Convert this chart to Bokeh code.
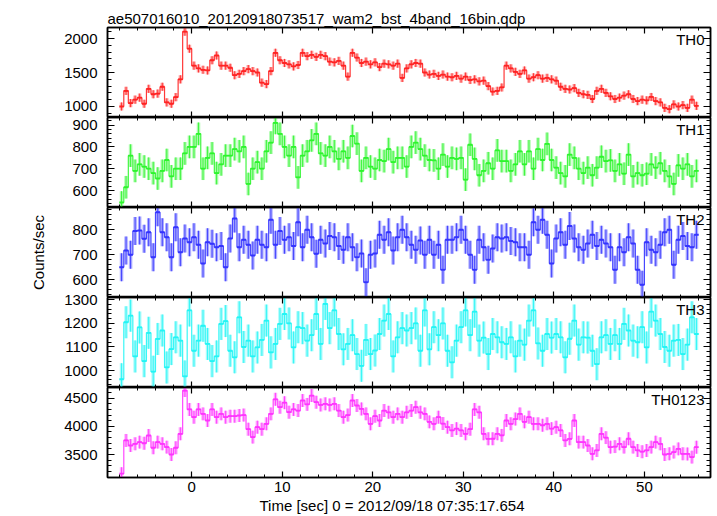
from bokeh.plotting import figure
from bokeh.layouts import column
from bokeh.models import Range1d, LinearAxis, SingleIntervalTicker, Label, ColumnDataSource, Title
from bokeh.embed import file_html
from bokeh.resources import INLINE

TITLE = "ae507016010_20120918073517_wam2_bst_4band_16bin.qdp"
X_LABEL = "Time [sec] 0 = 2012/09/18 07:35:17.654"
Y_LABEL = "Counts/sec"

# time bins: 0.5 s bins starting at -8 s (centres)
T_START = -7.75
BIN = 0.5

CHANNELS = ["TH0", "TH1", "TH2", "TH3", "TH0123"]

TH0 = [1000, 1230, 1050, 1100, 1130, 1040, 1260, 1180, 1190, 1290,
       1060, 1040, 1137, 1400, 2100, 1850, 1600, 1560, 1540, 1530,
       1680, 1750, 1600, 1600, 1570, 1460, 1480, 1520, 1550, 1520,
       1500, 1350, 1330, 1520, 1790, 1680, 1640, 1620, 1590, 1610,
       1790, 1740, 1760, 1730, 1760, 1740, 1660, 1650, 1670, 1600,
       1440, 1790, 1720, 1640, 1660, 1620, 1650, 1580, 1630, 1620,
       1600, 1630, 1420, 1560, 1620, 1640, 1630, 1500, 1470, 1480,
       1450, 1470, 1440, 1430, 1450, 1410, 1440, 1390, 1400, 1370,
       1380, 1300, 1220, 1230, 1280, 1600, 1560, 1510, 1480, 1530,
       1410, 1430, 1460, 1410, 1420, 1400, 1380, 1290, 1260, 1250,
       1270, 1200, 1180, 1170, 1110, 1230, 1260, 1200, 1150, 1110,
       1130, 1160, 1180, 1110, 1080, 1100, 1090, 1140, 1080, 1060,
       980, 960, 1030, 1000, 1020, 980, 1100, 1010]

TH1 = [545, 615, 760, 690, 720, 710, 700, 680, 655, 690,
       740, 665, 700, 700, 770, 800, 800, 860, 700, 750,
       770, 680, 720, 760, 760, 790, 780, 800, 630, 700,
       730, 700, 780, 820, 910, 860, 800, 760, 800, 660,
       760, 780, 830, 860, 770, 760, 800, 780, 745, 780,
       750, 850, 815, 690, 750, 710, 700, 740, 735, 790,
       730, 750, 750, 710, 800, 820, 790, 760, 740, 738,
       700, 765, 710, 750, 745, 750, 650, 810, 745, 670,
       690, 725, 700, 784, 735, 735, 690, 720, 780, 720,
       780, 700, 790, 740, 814, 740, 705, 680, 665, 765,
       750, 700, 680, 705, 670, 705, 755, 735, 738, 690,
       720, 677, 765, 665, 680, 670, 677, 720, 705, 725,
       690, 665, 630, 715, 700, 720, 665, 690]

TH2 = [650, 717, 700, 795, 797, 764, 790, 690, 870, 790,
       770, 690, 810, 710, 765, 750, 770, 740, 665, 750,
       744, 730, 735, 650, 765, 845, 730, 760, 740, 697,
       760, 740, 730, 840, 740, 795, 760, 770, 735, 830,
       730, 800, 770, 704, 760, 745, 775, 770, 735, 720,
       770, 730, 690, 705, 590, 700, 705, 780, 760, 790,
       717, 770, 800, 770, 740, 720, 757, 700, 760, 700,
       740, 640, 760, 760, 770, 800, 760, 700, 640, 760,
       730, 680, 725, 770, 765, 770, 755, 750, 730, 730,
       700, 830, 800, 840, 780, 665, 765, 790, 740, 815,
       765, 730, 720, 745, 780, 735, 760, 745, 730, 640,
       730, 710, 770, 745, 640, 580, 750, 720, 710, 740,
       790, 800, 660, 760, 775, 735, 730, 780]

TH3 = [963, 1205, 1233, 1060, 1183, 1040, 1160, 995, 1134, 1170,
       1013, 1091, 1141, 1127, 975, 1255, 1084, 1127, 1190, 1113,
       1040, 1060, 1198, 1210, 1084, 1056, 1226, 1100, 1127, 1060,
       1098, 1130, 1212, 1077, 1113, 1198, 1240, 1200, 1098, 1184,
       1180, 1127, 1150, 1240, 1113, 1283, 1180, 1255, 1155, 1090,
       1113, 1150, 1070, 1020, 1130, 1070, 1085, 1155, 1212, 1240,
       1060, 1141, 1180, 1170, 1180, 1200, 1084, 1255, 1090, 1184,
       1150, 1200, 1084, 1035, 1127, 1184, 1255, 1150, 1250, 1127,
       1140, 1070, 1155, 1141, 1120, 1113, 1141, 1060, 1127, 1110,
       1212, 1255, 1115, 1084, 1155, 1140, 1155, 1141, 1056, 1135,
       1212, 1110, 1141, 1140, 1084, 1027, 1141, 1150, 1113, 1150,
       1113, 1198, 1170, 1127, 1120, 1184, 1098, 1250, 1212, 1155,
       1100, 1084, 1127, 1130, 1070, 1110, 1226, 1155]

TH0123 = [3160, 3750, 3660, 3690, 3720, 3700, 3838, 3620, 3720, 3690,
          3631, 3500, 3620, 3868, 4636, 4300, 4163, 4300, 4222, 4104,
          4300, 4163, 4222, 4163, 4180, 4180, 4193, 4200, 3950, 3809,
          3986, 3950, 4045, 4222, 4480, 4340, 4420, 4252, 4300, 4281,
          4459, 4390, 4547, 4429, 4380, 4400, 4380, 4400, 4280, 4163,
          4200, 4459, 4370, 4310, 4222, 4045, 4180, 4104, 4281, 4250,
          4163, 4222, 4163, 4250, 4281, 4340, 4250, 4222, 4080, 4045,
          4163, 4050, 3986, 3927, 3960, 3927, 3868, 3950, 4300, 4250,
          3868, 3779, 3780, 3868, 3840, 4104, 4045, 4130, 4222, 4080,
          4163, 4045, 4045, 4020, 4045, 3960, 3986, 3927, 3750, 3779,
          4104, 3720, 3720, 3660, 3513, 3572, 3868, 3800, 3631, 3640,
          3690, 3631, 3780, 3631, 3572, 3550, 3572, 3631, 3720, 3690,
          3500, 3513, 3543, 3600, 3513, 3510, 3454, 3630]

SERIES = [TH0, TH1, TH2, TH3, TH0123]
ERRORS = [60, 52, 56, 68, 115]          # typical 1-sigma error per channel
Y_RANGES = [(838, 2162), (522, 935), (529, 889), (928, 1310), (3092, 4690)]
Y_MAJOR = [500, 100, 100, 100, 500]
X_RANGE = (-9.3, 57.3)
X_MAJOR = 10
X_TICK_LABELS = ["0", "10", "20", "30", "40", "50"]
COLORS = ["#ff2222", "#2cf52c", "#3333ff", "#22f5f5", "#ff33ff"]

FONT = "Liberation Sans"
FS = "15px"
OVERLAP = 10

x_range = Range1d(*X_RANGE)
figs = []
n = len(CHANNELS)
for k in range(n):
    top = 27 if k == 0 else OVERLAP
    bottom = 39 if k == n - 1 else 0
    p = figure(frame_width=603, frame_height=90, x_range=x_range,
               y_range=Range1d(*Y_RANGES[k]), output_backend="svg",
               toolbar_location=None, x_axis_location=None, y_axis_location=None,
               min_border_left=107, min_border_right=7,
               min_border_top=top, min_border_bottom=bottom,
               background_fill_color="white", border_fill_color=None)
    if k > 0:
        p.margin = (-OVERLAP, 0, 0, 0)
    p.grid.visible = False
    p.outline_line_color = "black"
    p.outline_line_width = 1.5

    t = [T_START + BIN * i for i in range(len(SERIES[k]))]
    v = SERIES[k]
    e = ERRORS[k]
    src = ColumnDataSource(dict(
        t=t, v=v,
        lo=[a - e for a in v], hi=[a + e for a in v],
        x0=[a - BIN / 2 for a in t], x1=[a + BIN / 2 for a in t]))
    c = COLORS[k]
    # error bars: pale wide band plus thin core
    p.segment(x0="t", y0="lo", x1="t", y1="hi", source=src, line_color=c,
              line_width=3.5, line_alpha=0.4)
    p.segment(x0="t", y0="lo", x1="t", y1="hi", source=src, line_color=c,
              line_width=1, line_alpha=0.85)
    # binned light curve as a histogram-like step
    p.step(x="t", y="v", source=src, mode="center", line_color=c,
           line_width=1.2, line_alpha=0.9)
    p.segment(x0="x0", y0="v", x1="x1", y1="v", source=src, line_color=c,
              line_width=1.8, line_alpha=1.0)

    # y axes, ticks inward on both sides
    for side in ("left", "right"):
        ax = LinearAxis(ticker=SingleIntervalTicker(interval=Y_MAJOR[k], num_minor_ticks=5))
        ax.major_tick_in = 7
        ax.major_tick_out = 0
        ax.minor_tick_in = 4
        ax.minor_tick_out = 0
        ax.axis_line_color = "black"
        ax.axis_line_width = 1.5
        ax.major_tick_line_width = 1.2
        ax.minor_tick_line_width = 1
        if side == "left":
            ax.major_label_text_font = FONT
            ax.major_label_text_font_size = FS
            ax.major_label_text_color = "black"
            ax.major_label_standoff = 10
            if k == 2:
                ax.axis_label = Y_LABEL
                ax.axis_label_text_font = FONT
                ax.axis_label_text_font_size = FS
                ax.axis_label_text_font_style = "normal"
                ax.axis_label_text_color = "black"
                ax.axis_label_standoff = 22
        else:
            ax.major_label_text_font_size = "0px"
            ax.major_label_text_color = None
            ax.major_label_standoff = 0
        p.add_layout(ax, side)

    # x axes, ticks inward on both sides
    for side in ("above", "below"):
        ax = LinearAxis(ticker=SingleIntervalTicker(interval=X_MAJOR, num_minor_ticks=5))
        ax.major_tick_in = 6
        ax.major_tick_out = 0
        ax.minor_tick_in = 3
        ax.minor_tick_out = 0
        ax.axis_line_color = "black"
        ax.axis_line_width = 1.5
        ax.major_tick_line_width = 1.2
        ax.minor_tick_line_width = 1
        if side == "below" and k == n - 1:
            ax.major_label_text_font = FONT
            ax.major_label_text_font_size = FS
            ax.major_label_text_color = "black"
            ax.major_label_standoff = 4
            ax.major_label_overrides = {X_MAJOR * i: s for i, s in enumerate(X_TICK_LABELS)}
        else:
            ax.major_label_text_font_size = "0px"
            ax.major_label_text_color = None
            ax.major_label_standoff = 0
        p.add_layout(ax, side)

    p.add_layout(Label(x=X_RANGE[1], y=Y_RANGES[k][1], text=CHANNELS[k],
                       text_align="right", text_baseline="top",
                       x_offset=-6, y_offset=-3,
                       text_font=FONT, text_font_size=FS, text_color="black"))

    if k == 0:
        p.title.text = TITLE
        p.title.text_font = FONT
        p.title.text_font_size = FS
        p.title.text_font_style = "normal"
        p.title.text_color = "black"
        p.title.align = "left"
        p.title.offset = 0
        p.title.standoff = 2
    if k == n - 1:
        p.add_layout(Title(text=X_LABEL, align="left", offset=152, standoff=0,
                           text_font=FONT, text_font_size=FS,
                           text_font_style="normal", text_color="black"), "below")
    figs.append(p)

layout = column(*figs, spacing=0)
open("out.html", "w").write(file_html(layout, INLINE))
